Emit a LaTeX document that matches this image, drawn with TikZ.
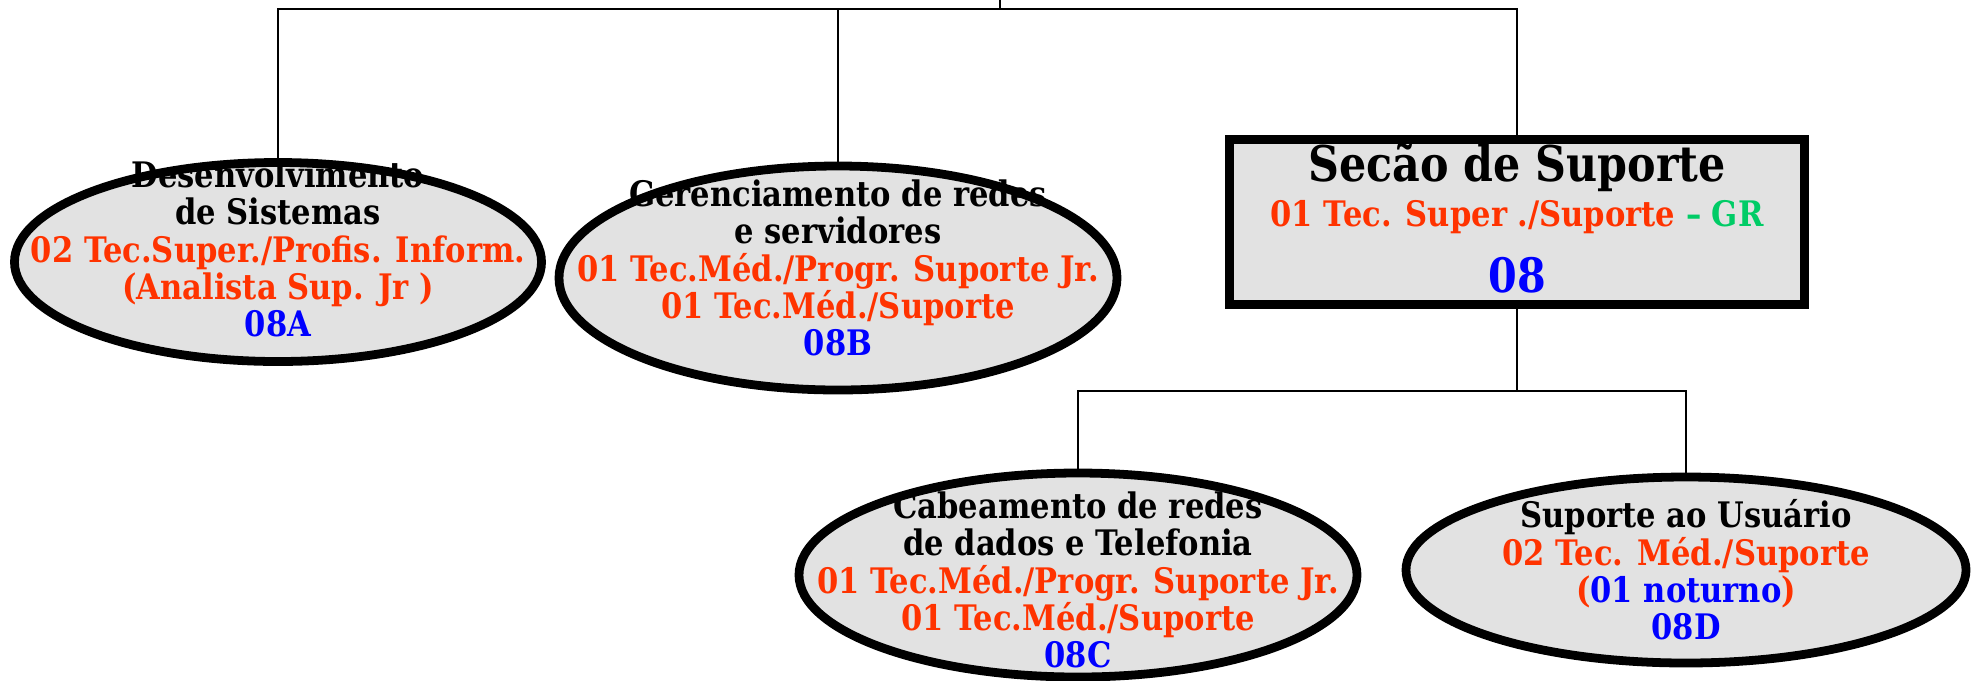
\documentclass[tikz,border=0pt]{standalone}
\usepackage{fontspec}
\setmainfont{DejaVu Serif}[FakeStretch=0.87]
\usetikzlibrary{calc,positioning,shapes.geometric}
\definecolor{staffred}{RGB}{255,51,0}
\definecolor{codeblue}{RGB}{0,0,255}
\definecolor{grgreen}{RGB}{0,204,102}
\definecolor{granite}{RGB}{226,226,226}

\begin{document}
\begin{tikzpicture}[x=0.2mm,y=-0.2mm,font=\bfseries\fontsize{20}{21.3}\selectfont]

\tikzset{unitnode/.style={shape=ellipse,draw=black,line width=5pt,fill=granite,inner sep=0pt},
sectionnode/.style={shape=rectangle,draw=black,line width=5pt,fill=granite,inner sep=0pt,minimum width=115mm,minimum height=33mm},
unittext/.style={align=center,inner sep=0pt},
wire/.style={line width=1.1pt}}

\useasboundingbox (0,0) rectangle (1979,680);

% Section box
\node[sectionnode] (sec) at (1517,222) {};
\node[unittext,font=\bfseries\fontsize{28}{30}\selectfont] (secTitle) at (1517,167) {Secão de Suporte};
\node[unittext] (secStaff) at (1517,217) {\textcolor{staffred}{01 Tec. Super ./Suporte} \textcolor{grgreen}{– GR}};
\node[unittext,font=\bfseries\fontsize{27}{30}\selectfont,text=codeblue] (secCode) at (1517,275) {08};

% Unit nodes
\node[unitnode,minimum width=105.4mm,minimum height=39.8mm] (unitA) at (278,262) {};
\node[unitnode,minimum width=111.6mm,minimum height=44.8mm] (unitB) at (838,278) {};
\node[unitnode,minimum width=111.6mm,minimum height=40.8mm] (unitC) at (1078,575) {};
\node[unitnode,minimum width=112mm,minimum height=37.2mm] (unitD) at (1686,570) {};

% Unit texts
\node[unittext] (txtA) at ($(unitA)+(0,-13)$) {Desenvolvimento\\ de Sistemas\\
  \textcolor{staffred}{02 Tec.Super./Profis. Inform.}\\ \textcolor{staffred}{(Analista Sup. Jr )}\\ \textcolor{codeblue}{08A}};
\node[unittext] (txtB) at ($(unitB)+(0,-10)$) {Gerenciamento de redes\\ e servidores\\
  \textcolor{staffred}{01 Tec.Méd./Progr. Suporte Jr.}\\ \textcolor{staffred}{01 Tec.Méd./Suporte}\\ \textcolor{codeblue}{08B}};
\node[unittext] (txtC) at ($(unitC)+(0,5)$) {Cabeamento de redes\\ de dados e Telefonia\\
  \textcolor{staffred}{01 Tec.Méd./Progr. Suporte Jr.}\\ \textcolor{staffred}{01 Tec.Méd./Suporte}\\ \textcolor{codeblue}{08C}};
\node[unittext] (txtD) at ($(unitD)+(0,0)$) {Suporte ao Usuário\\
  \textcolor{staffred}{02 Tec. Méd./Suporte}\\ \textcolor{staffred}{(}\textcolor{codeblue}{01 noturno}\textcolor{staffred}{)}\\ \textcolor{codeblue}{08D}};

% Edges
\coordinate (root) at (1000,0);
\coordinate (busTop) at (1000,9);
\coordinate (busMid) at (1517,391);
\draw[wire] (root) -- (busTop);
\draw[wire] (unitA.north) |- (busTop) -| (sec.north);
\draw[wire] (unitB.north) -- (unitB.north |- busTop);
\draw[wire] (sec.south) -- (busMid);
\draw[wire] (unitC.north) |- (busMid) -| (unitD.north);

\end{tikzpicture}
\end{document}
